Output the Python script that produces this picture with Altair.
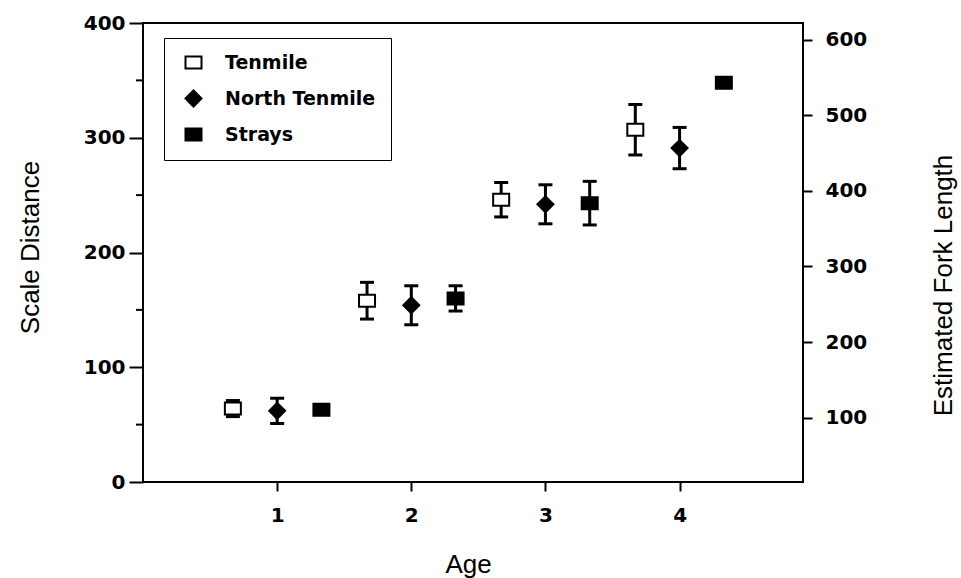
import altair as alt
import pandas as pd

# ---- data ----
ages = [1, 2, 3, 4]
groups = ["Tenmile", "North Tenmile", "Strays"]
tenmile_mean = [64, 158, 246, 307]
tenmile_err = [7, 16, 15, 22]
north_mean = [62, 154, 242, 291]
north_err = [11, 17, 17, 18]
strays_mean = [63, 160, 243, 348]
strays_err = [None, 11, 19, None]

left_ticks = [0, 100, 200, 300, 400]
left_minor_ticks = [50, 150, 250, 350]
right_ticks = [100, 200, 300, 400, 500, 600]
x_ticks = [1, 2, 3, 4]

rows = []
for g, means, errs in zip(groups, [tenmile_mean, north_mean, strays_mean],
                          [tenmile_err, north_err, strays_err]):
    for a, m, e in zip(ages, means, errs):
        rows.append({"group": g, "age": a, "mean": m, "err": e})
df = pd.DataFrame(rows)

TICK_FONT = "DejaVu Sans"
TITLE_FONT = "Liberation Sans"

x_axis = alt.Axis(values=x_ticks, title="Age", tickSize=9, tickWidth=2, tickColor="black",
                  labelFont=TICK_FONT, labelFontWeight="bold", labelFontSize=20, labelColor="black",
                  labelPadding=14, titleFont=TITLE_FONT, titleFontSize=26, titleFontWeight="normal",
                  titleColor="black", titleX=325, titleY=82, titleBaseline="middle",
                  domain=False, grid=False)
xenc = alt.X("xpos:Q", scale=alt.Scale(domain=[0, 4.92], nice=False, zero=False), axis=x_axis)

y_scale = alt.Scale(domain=[0, 400], nice=False, zero=False)
y_axis = alt.Axis(values=left_ticks, title="Scale Distance", tickSize=14, tickWidth=2,
                  tickColor="black", labelFont=TICK_FONT, labelFontWeight="bold",
                  labelFontSize=20, labelColor="black", labelPadding=4,
                  titleFont=TITLE_FONT, titleFontSize=26, titleFontWeight="normal",
                  titleColor="black", titleX=-113, titleY=224, titleAngle=270,
                  titleBaseline="middle", titleAlign="center", domain=False, grid=False)

base = alt.Chart(df).transform_calculate(
    xpos="datum.age + (datum.group === 'Tenmile' ? -0.33 : (datum.group === 'Strays' ? 0.33 : 0))",
    lo="datum.mean - datum.err",
    hi="datum.mean + datum.err",
)

bars = base.transform_filter("isValid(datum.err)").mark_rule(
    color="black", strokeWidth=3
).encode(x=xenc, y=alt.Y("lo:Q", scale=y_scale, axis=y_axis), y2="hi:Q")

cap_shape = "M-1,0L1,0"
cap_lo = base.transform_filter("isValid(datum.err)").mark_point(
    shape=cap_shape, size=196, filled=False, stroke="black", strokeWidth=3, opacity=1
).encode(x=xenc, y=alt.Y("lo:Q", scale=y_scale, axis=y_axis))
cap_hi = base.transform_filter("isValid(datum.err)").mark_point(
    shape=cap_shape, size=196, filled=False, stroke="black", strokeWidth=3, opacity=1
).encode(x=xenc, y=alt.Y("hi:Q", scale=y_scale, axis=y_axis))

rect_shape = "M-1,-0.75L1,-0.75L1,0.75L-1,0.75Z"
legend = alt.Legend(title=None, orient="none", legendX=21, legendY=15,
                    strokeColor="black", padding=15, rowPadding=13,
                    labelFont=TICK_FONT, labelFontWeight="bold", labelFontSize=19,
                    labelColor="black", labelOffset=22, symbolOffset=5, symbolSize=256,
                    symbolStrokeWidth=2)
points = base.mark_point(strokeWidth=2, opacity=1, fillOpacity=1, size=256).encode(
    x=xenc,
    y=alt.Y("mean:Q", scale=y_scale, axis=y_axis),
    shape=alt.Shape("group:N", scale=alt.Scale(domain=groups, range=[rect_shape, "diamond", rect_shape]),
                    legend=legend),
    fill=alt.Fill("group:N", scale=alt.Scale(domain=groups, range=["white", "black", "black"]),
                  legend=legend),
    stroke=alt.Stroke("group:N", scale=alt.Scale(domain=groups, range=["black", "black", "black"]),
                      legend=legend),
)

minor = alt.Chart(pd.DataFrame({"v": left_minor_ticks})).mark_rule(
    color="black", strokeWidth=2
).encode(y=alt.Y("v:Q", scale=y_scale, axis=y_axis), x=alt.value(-7), x2=alt.value(0))

left = alt.layer(minor, bars, cap_lo, cap_hi, points)

right = alt.Chart(pd.DataFrame({"v": right_ticks})).mark_point(opacity=0).encode(
    y=alt.Y("v:Q", scale=alt.Scale(domain=[15, 622], nice=False, zero=False),
            axis=alt.Axis(orient="right", values=right_ticks, title="Estimated Fork Length",
                          tickSize=9, tickWidth=2, tickColor="black", labelFont=TICK_FONT,
                          labelFontWeight="bold", labelFontSize=20, labelColor="black",
                          labelPadding=13, titleFont=TITLE_FONT, titleFontSize=26,
                          titleFontWeight="normal", titleColor="black", titleX=140, titleY=262,
                          titleAngle=270, titleBaseline="middle", titleAlign="center",
                          domain=False, grid=False))
)

chart = alt.layer(left, right).resolve_scale(y="independent").properties(
    width=660, height=459,
    autosize=alt.AutoSizeParams(type="none"),
    padding={"left": 143, "top": 23, "right": 158, "bottom": 96},
    background="white",
).configure_view(stroke="black", strokeWidth=2)

chart.save("out.html", embed_options={"renderer": "svg", "actions": False})
